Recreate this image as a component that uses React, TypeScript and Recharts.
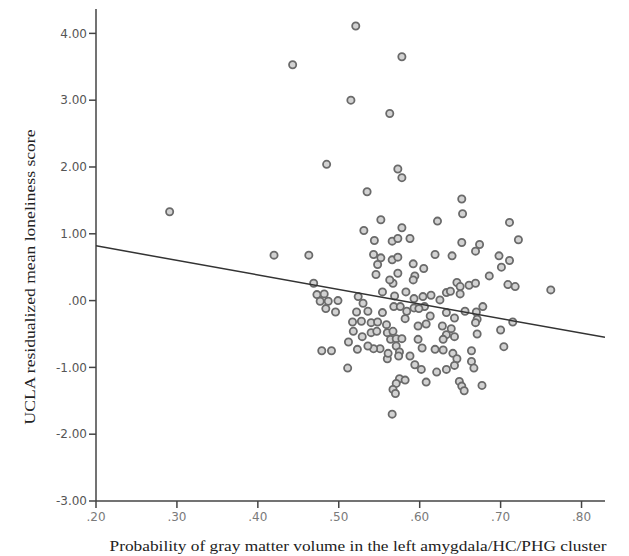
import { ScatterChart, Scatter, XAxis, YAxis, Label } from 'recharts';

// gray matter probability (x) and residualized loneliness (y)
const probX = [
  0.443, 0.291, 0.420, 0.463, 0.521, 0.578, 0.515, 0.563, 0.485, 0.573,
  0.578, 0.535, 0.652, 0.653, 0.552, 0.622, 0.711, 0.531, 0.578, 0.722,
  0.544, 0.566, 0.573, 0.588, 0.652, 0.674, 0.669, 0.543, 0.552, 0.566,
  0.573, 0.619, 0.640, 0.698, 0.711, 0.701, 0.548, 0.592, 0.605, 0.546,
  0.573, 0.594, 0.686, 0.646, 0.661, 0.669, 0.709, 0.718, 0.762, 0.469,
  0.473, 0.482, 0.477, 0.487, 0.499, 0.484, 0.496, 0.524, 0.530, 0.522,
  0.536, 0.517, 0.528, 0.540, 0.518, 0.540, 0.548, 0.554, 0.554, 0.567,
  0.569, 0.568, 0.576, 0.583, 0.584, 0.582, 0.593, 0.593, 0.592, 0.604,
  0.606, 0.599, 0.614, 0.613, 0.608, 0.598, 0.625, 0.633, 0.633, 0.628,
  0.633, 0.629, 0.547, 0.559, 0.560, 0.567, 0.564, 0.571, 0.578, 0.571,
  0.575, 0.574, 0.560, 0.561, 0.551, 0.543, 0.536, 0.529, 0.512, 0.523,
  0.479, 0.491, 0.511, 0.588, 0.594, 0.602, 0.598, 0.603, 0.619, 0.629,
  0.621, 0.633, 0.575, 0.582, 0.571, 0.567, 0.570, 0.608, 0.566, 0.650,
  0.638, 0.643, 0.656, 0.670, 0.678, 0.671, 0.669, 0.715, 0.639, 0.643,
  0.671, 0.700, 0.704, 0.641, 0.646, 0.664, 0.664, 0.667, 0.643, 0.649,
  0.652, 0.655, 0.677, 0.563, 0.650,
];
const lonelyY = [
  3.53, 1.33, 0.68, 0.68, 4.11, 3.65, 3.00, 2.80, 2.04, 1.97,
  1.84, 1.63, 1.52, 1.30, 1.21, 1.19, 1.17, 1.05, 1.09, 0.91,
  0.90, 0.89, 0.93, 0.93, 0.87, 0.84, 0.74, 0.69, 0.64, 0.61,
  0.65, 0.69, 0.67, 0.67, 0.60, 0.50, 0.54, 0.55, 0.48, 0.39,
  0.41, 0.37, 0.37, 0.27, 0.23, 0.26, 0.24, 0.21, 0.16, 0.26,
  0.09, 0.10, -0.01, -0.01, 0.00, -0.12, -0.17, 0.06, -0.04, -0.17,
  -0.16, -0.32, -0.31, -0.33, -0.46, -0.48, -0.32, -0.18, 0.13, 0.26,
  0.07, -0.09, -0.09, 0.13, -0.16, -0.27, 0.03, -0.11, 0.31, 0.06,
  -0.09, -0.12, 0.08, -0.23, -0.35, -0.38, 0.01, 0.12, -0.18, -0.38,
  -0.51, -0.58, -0.46, -0.36, -0.48, -0.46, -0.58, -0.57, -0.57, -0.68,
  -0.77, -0.83, -0.87, -0.79, -0.72, -0.72, -0.68, -0.54, -0.62, -0.73,
  -0.75, -0.75, -1.01, -0.83, -0.96, -1.03, -0.58, -0.71, -0.73, -0.74,
  -1.07, -1.03, -1.17, -1.19, -1.24, -1.33, -1.39, -1.22, -1.70, 0.10,
  0.14, -0.26, -0.16, -0.17, -0.09, -0.28, -0.33, -0.32, -0.42, -0.54,
  -0.50, -0.44, -0.69, -0.79, -0.87, -0.75, -0.91, -1.01, -0.97, -1.21,
  -1.28, -1.35, -1.27, 0.31, 0.21,
];

// fit line end points
const fitX = [0.2, 0.829];
const fitY = [0.82, -0.55];

const xTicks = [0.2, 0.3, 0.4, 0.5, 0.6, 0.7, 0.8];
const yTicks = [-3, -2, -1, 0, 1, 2, 3, 4];

const points = probX.map((x, i) => ({ x, y: lonelyY[i] }));
const fitData = fitX.map((x, i) => ({ x, y: fitY[i] }));

const fmtX = (v: number) => v.toFixed(2).replace(/^0/, '');
const fmtY = (v: number) => {
  const s = Math.abs(v).toFixed(2).replace(/^0/, '');
  return v < 0 ? '-' + s : s;
};

const Ring = (props: any) => (
  <circle cx={props.cx} cy={props.cy} r={3.6} fill="#d2d2d2" stroke="#6a6a6a" strokeWidth={1.8} />
);

export default function App() {
  return (
    <div style={{ position: 'absolute', left: 0, top: 0, background: '#fff' }}>
      <ScatterChart width={629} height={556} margin={{ top: 9, right: 24, bottom: 0, left: 0 }}>
        <XAxis
          type="number"
          dataKey="x"
          domain={[0.2, 0.829]}
          ticks={xTicks}
          tickFormatter={fmtX}
          allowDataOverflow
          height={55}
          stroke="#444"
          strokeWidth={1.5}
          tickSize={7}
          tickMargin={4}
          tick={{ fill: '#7a7a7a', fontSize: 12, fontFamily: 'DejaVu Sans' }}
        >
          <Label
            content={() => (
              <text
                x={358}
                y={551}
                textAnchor="middle"
                textLength={497}
                lengthAdjust="spacingAndGlyphs"
                fontFamily="'Liberation Serif', serif"
                fontSize={15}
                fill="#222"
              >
                Probability of gray matter volume in the left amygdala/HC/PHG cluster
              </text>
            )}
          />
        </XAxis>
        <YAxis
          type="number"
          dataKey="y"
          domain={[-3, 4.365]}
          ticks={yTicks}
          tickFormatter={fmtY}
          allowDataOverflow
          width={96}
          stroke="#444"
          strokeWidth={1.5}
          tickSize={7}
          tickMargin={2}
          tick={{ fill: '#555', fontSize: 12, fontFamily: 'DejaVu Sans' }}
        >
          <Label
            content={() => (
              <text
                x={35}
                y={277}
                transform="rotate(-90 35 277)"
                textAnchor="middle"
                textLength={295}
                lengthAdjust="spacingAndGlyphs"
                fontFamily="'Liberation Serif', serif"
                fontSize={15}
                fill="#222"
              >
                UCLA residualized mean loneliness score
              </text>
            )}
          />
        </YAxis>
        <Scatter data={points} shape={Ring} isAnimationActive={false} />
        <Scatter
          data={fitData}
          line={{ stroke: '#333', strokeWidth: 1.5 }}
          shape={() => <g />}
          isAnimationActive={false}
        />
      </ScatterChart>
    </div>
  );
}
